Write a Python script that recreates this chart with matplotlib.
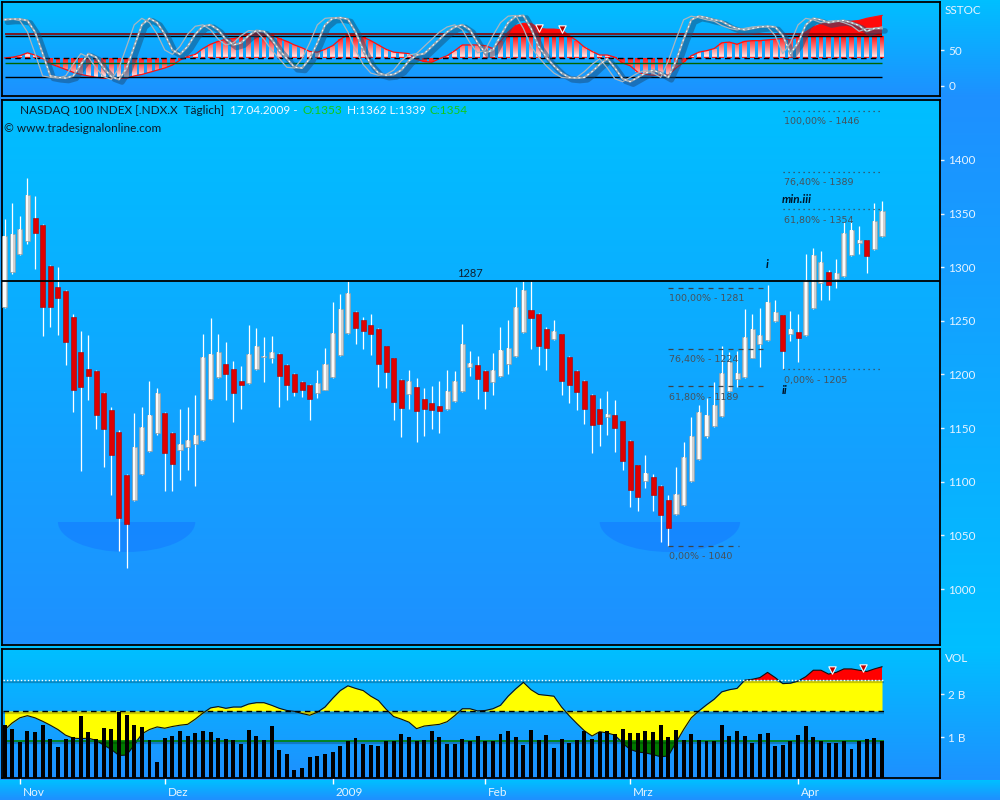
import numpy as np
import matplotlib
matplotlib.use('Agg')
import matplotlib.pyplot as plt
from matplotlib.path import Path
from matplotlib.patches import PathPatch, Ellipse, Rectangle
import matplotlib.transforms as mtransforms

plt.rcParams['font.family'] = ['Lato', 'DejaVu Sans']

# ---------------- data ----------------
opens = [1263, 1296, 1312, 1324, 1346, 1339, 1301, 1282, 1278, 1254, 1221, 1205, 1203, 1183, 1167, 1146, 1106, 1083, 1107, 1129,
         1145, 1164, 1145, 1130, 1132, 1135, 1139, 1177, 1198, 1210, 1205, 1194, 1192, 1205, 1216, 1215, 1219, 1209, 1200, 1193,
         1190, 1183, 1186, 1198, 1218, 1239, 1258, 1251, 1246, 1242, 1227, 1215, 1195, 1182, 1188, 1177, 1173, 1171, 1168, 1175,
         1185, 1207, 1209, 1203, 1193, 1199, 1210, 1217, 1240, 1260, 1256, 1242, 1233, 1238, 1216, 1203, 1194, 1181, 1168, 1160,
         1162, 1157, 1138, 1116, 1101, 1104, 1096, 1083, 1070, 1078, 1101, 1121, 1143, 1152, 1161, 1185, 1196, 1198, 1215, 1228,
         1232, 1250, 1255, 1238, 1240, 1237, 1262, 1285, 1296, 1289, 1292, 1311, 1323, 1325, 1317, 1329]
highs = [1345, 1360, 1348, 1383, 1366, 1340, 1302, 1300, 1279, 1256, 1241, 1237, 1204, 1184, 1170, 1148, 1107, 1164, 1170, 1194,
         1187, 1165, 1146, 1168, 1170, 1181, 1238, 1253, 1238, 1230, 1213, 1208, 1246, 1243, 1235, 1236, 1220, 1210, 1201, 1194,
         1191, 1204, 1225, 1268, 1275, 1287, 1259, 1254, 1256, 1243, 1227, 1215, 1196, 1204, 1197, 1187, 1189, 1194, 1204, 1203,
         1247, 1222, 1217, 1204, 1220, 1244, 1251, 1282, 1287, 1287, 1257, 1244, 1251, 1238, 1217, 1204, 1195, 1182, 1178, 1185,
         1176, 1157, 1139, 1116, 1125, 1107, 1097, 1088, 1114, 1137, 1160, 1172, 1178, 1193, 1227, 1221, 1222, 1261, 1256, 1262,
         1283, 1269, 1255, 1259, 1256, 1312, 1318, 1315, 1297, 1308, 1342, 1345, 1338, 1325, 1360, 1362]
lows = [1262, 1294, 1311, 1322, 1298, 1236, 1244, 1237, 1209, 1165, 1110, 1176, 1149, 1114, 1088, 1035, 1020, 1082, 1106, 1128,
        1144, 1091, 1091, 1102, 1111, 1096, 1138, 1176, 1197, 1176, 1156, 1168, 1191, 1204, 1193, 1211, 1170, 1176, 1180, 1179,
        1158, 1178, 1186, 1197, 1217, 1238, 1228, 1224, 1218, 1188, 1187, 1158, 1142, 1168, 1137, 1143, 1149, 1145, 1167, 1174,
        1184, 1199, 1177, 1168, 1181, 1198, 1200, 1216, 1239, 1224, 1209, 1204, 1232, 1181, 1173, 1167, 1154, 1127, 1133, 1144,
        1128, 1111, 1076, 1073, 1094, 1073, 1044, 1040, 1069, 1077, 1100, 1120, 1141, 1151, 1160, 1184, 1188, 1197, 1215, 1207,
        1231, 1249, 1205, 1231, 1212, 1236, 1261, 1269, 1269, 1281, 1291, 1310, 1312, 1295, 1316, 1328]
closes = [1329, 1331, 1336, 1367, 1332, 1263, 1263, 1271, 1230, 1186, 1188, 1199, 1162, 1149, 1125, 1066, 1061, 1132, 1151, 1162,
          1183, 1127, 1117, 1135, 1139, 1144, 1216, 1219, 1221, 1200, 1183, 1190, 1219, 1227, 1216.5, 1221, 1199, 1190, 1184, 1186,
          1177, 1192, 1210, 1239, 1261, 1276, 1243, 1241, 1238, 1210, 1202, 1174, 1169, 1194, 1166, 1168, 1167, 1166, 1185, 1194,
          1228, 1211, 1196, 1185, 1204, 1223, 1225, 1263, 1279, 1253, 1227, 1225, 1241, 1194, 1190, 1184, 1168, 1153, 1154, 1163,
          1150, 1119, 1092, 1086, 1108, 1088, 1069, 1057, 1089, 1123, 1143, 1165, 1162, 1172, 1201, 1212, 1201, 1235, 1242, 1237,
          1268, 1258, 1222, 1242, 1234, 1288, 1311, 1305, 1283, 1295, 1332, 1335, 1325, 1310, 1343, 1352]

volume_bn = [1.28, 1.19, 0.89, 1.15, 1.12, 1.28, 0.96, 0.78, 0.96, 1.01, 1.49, 1.12, 0.96, 1.22, 1.19, 1.58, 1.52, 1.28, 1.24, 0.94,
             0.43, 0.98, 1.03, 1.15, 1.03, 1.10, 1.15, 1.12, 0.98, 0.96, 0.94, 0.85, 1.17, 1.03, 0.94, 1.26, 0.71, 0.62, 0.25, 0.29,
             0.55, 0.57, 0.62, 0.66, 0.80, 0.92, 0.98, 0.85, 0.82, 0.80, 0.92, 0.92, 1.08, 1.01, 0.92, 0.94, 1.15, 1.01, 0.85, 0.85,
             0.96, 0.92, 1.03, 0.92, 0.92, 1.08, 1.15, 1.01, 0.82, 1.17, 0.94, 1.05, 0.75, 0.96, 0.87, 0.94, 1.15, 0.96, 1.12, 1.15,
             1.08, 1.19, 1.10, 1.10, 1.15, 1.12, 1.28, 1.01, 1.17, 0.94, 1.08, 0.94, 0.92, 0.92, 1.28, 1.03, 1.15, 1.03, 0.87, 1.08,
             1.10, 0.80, 0.82, 0.92, 1.05, 1.26, 1.01, 0.92, 0.87, 0.87, 0.92, 0.73, 0.92, 0.96, 0.98, 0.92]

vol_curve = [1.17, 1.33, 1.45, 1.50, 1.45, 1.37, 1.28, 1.18, 1.05, 0.98, 0.97, 0.98, 0.93, 0.82, 0.72, 0.58, 0.59, 0.82, 1.08, 1.18,
             1.24, 1.21, 1.25, 1.28, 1.30, 1.42, 1.56, 1.68, 1.71, 1.67, 1.70, 1.70, 1.77, 1.80, 1.80, 1.74, 1.67, 1.62, 1.60, 1.55,
             1.51, 1.58, 1.70, 1.90, 2.08, 2.19, 2.13, 2.08, 1.95, 1.85, 1.65, 1.48, 1.42, 1.35, 1.20, 1.26, 1.28, 1.30, 1.36, 1.50,
             1.66, 1.66, 1.61, 1.62, 1.66, 1.74, 1.95, 2.12, 2.27, 2.10, 1.99, 1.97, 1.95, 1.70, 1.50, 1.32, 1.15, 1.03, 1.13, 1.10,
             1.05, 0.86, 0.72, 0.66, 0.64, 0.60, 0.55, 0.57, 0.88, 1.18, 1.45, 1.61, 1.75, 1.88, 2.05, 2.10, 2.13, 2.32, 2.34, 2.38,
             2.50, 2.38, 2.24, 2.25, 2.30, 2.40, 2.55, 2.55, 2.46, 2.50, 2.58, 2.58, 2.55, 2.52, 2.58, 2.63]

sstoc_slow = [92, 93, 93, 91, 75, 45, 14, 12, 11, 14, 30, 45, 40, 25, 13, 9, 25, 55, 85, 94,
              88, 72, 50, 44, 55, 72, 83, 85, 78, 65, 57, 60, 70, 77, 76, 65, 50, 38, 26, 25,
              38, 60, 85, 94, 95, 93, 75, 50, 30, 18, 15, 16, 22, 35, 43, 45, 55, 65, 75, 82,
              85, 78, 60, 46, 50, 70, 88, 97, 98, 80, 55, 40, 28, 18, 12, 11, 12, 20, 30, 38,
              25, 10, 6, 12, 18, 22, 18, 12, 35, 65, 92, 97, 95, 92, 90, 84, 80, 78, 80, 82,
              83, 82, 70, 45, 60, 85, 94, 92, 88, 90, 91, 88, 84, 76, 80, 80]
sstoc_fast = [93, 93, 91, 75, 45, 14, 12, 11, 14, 30, 45, 40, 25, 13, 9, 25, 55, 85, 94, 88,
              72, 50, 44, 55, 72, 83, 85, 78, 65, 57, 60, 70, 77, 76, 65, 50, 38, 26, 25, 38,
              60, 85, 94, 95, 93, 75, 50, 30, 18, 15, 16, 22, 35, 43, 45, 55, 65, 75, 82, 85,
              78, 60, 46, 50, 70, 88, 97, 98, 80, 55, 40, 28, 18, 12, 11, 12, 20, 30, 38, 25,
              10, 6, 12, 18, 22, 18, 12, 35, 65, 92, 97, 95, 92, 90, 84, 80, 78, 80, 82, 83,
              82, 70, 45, 60, 85, 94, 92, 88, 90, 91, 88, 84, 76, 80, 80, 82]
sstoc_hist = [39, 40, 42, 46, 43, 38, 31, 27, 23, 19, 16, 14, 12, 11, 11, 11, 11, 14, 16, 19,
              22, 25, 29, 36, 41, 44, 52, 58, 62, 65, 66, 68, 72, 74, 73, 71, 66, 62, 57, 53,
              48, 47, 51, 56, 65, 71, 70, 68, 63, 57, 51, 47, 46, 45, 37, 34, 33, 38, 42, 49,
              57, 57, 57, 56, 52, 62, 75, 84, 87, 87, 80, 79, 79, 78, 70, 63, 54, 48, 43, 43,
              40, 32, 28, 19, 16, 15, 15, 15, 25, 33, 42, 47, 49, 52, 60, 61, 58, 62, 63, 63,
              64, 65, 66, 64, 69, 75, 82, 86, 88, 89, 90, 90, 91, 94, 96, 98]
sstoc_levels = {'upper_red': 72.2, 'upper': 69, 'mid': 39.3, 'green': 32, 'lower': 12}
sstoc_signal_idx = [70, 73]
sstoc_signal_val = [80, 79]
vol_levels = {'dotted': 2.32, 'dashed': 1.61, 'green': 0.92}
vol_signal_idx = [108.5, 112.5]
vol_signal_val = [2.56, 2.61]

month_ticks = [2, 21, 43, 63, 82, 104]
month_labels = ['Nov', 'Dez', '2009', 'Feb', 'Mrz', 'Apr']
price_ticks = [1000, 1050, 1100, 1150, 1200, 1250, 1300, 1350, 1400]
resistance = 1287
fib_pct = ['100,00%', '76,40%', '61,80%', '0,00%']
fib_left_val = [1281, 1224, 1189, 1040]
fib_right_val = [1446, 1389, 1354, 1205]

header_parts = [('NASDAQ 100 INDEX [.NDX.X  Täglich]', '#0c1a28', 6),
                ('17.04.2009 -', '#f0f8ff', 5),
                ('O:1353', '#14c814', 4),
                ('H:1362 L:1339', '#f0f8ff', 4),
                ('C:1354', '#14c814', 0)]

# ---------------- figure ----------------
L = np.array([0, 191, 255]) / 255.0
D = np.array([30, 144, 255]) / 255.0

def grad(n, c1, c2):
    t = np.linspace(0, 1, n)[:, None]
    return c1 * (1 - t) + c2 * t

fig = plt.figure(figsize=(10, 8), dpi=100)
bg = np.vstack([grad(98, L, D), grad(549, D, L), grad(133, L, D), grad(20, L, D)]).reshape(800, 1, 3)
bgax = fig.add_axes([0, 0, 1, 1])
bgax.imshow(bg, aspect='auto', extent=[0, 1, 0, 1])
bgax.axis('off')

def fx(px):
    return px / 1000.0

def fy(py):
    return 1 - py / 800.0

ax_top = fig.add_axes([fx(2), fy(96), 0.938, 94 / 800])
ax_main = fig.add_axes([fx(2), fy(645), 0.938, 545 / 800])
ax_vol = fig.add_axes([fx(2), fy(778), 0.938, 129 / 800])

TXT = '#e6f3ff'
for ax in (ax_top, ax_main, ax_vol):
    ax.imshow(grad(200, L, D).reshape(200, 1, 3), extent=[0, 1, 0, 1], transform=ax.transAxes,
              aspect='auto', zorder=0)
    for s in ax.spines.values():
        s.set_color('black')
        s.set_linewidth(1.3)
    ax.yaxis.tick_right()
    ax.tick_params(axis='y', direction='out', length=3, width=1, colors=TXT, labelsize=8.5, pad=3)
    ax.tick_params(axis='x', bottom=False, labelbottom=False)

n = len(closes)
idx = np.arange(n)
o = np.array(opens, float); h = np.array(highs, float); l = np.array(lows, float); c = np.array(closes, float)

# ---------------- main panel ----------------
ax = ax_main
for cx, hw in ((16, 9.0), (87.2, 9.2)):
    e = Ellipse((cx, 1062.5), width=2 * hw, height=56, facecolor='#1480ff', edgecolor='none', alpha=0.7, zorder=1)
    ax.add_patch(e)
    e.set_clip_path(Rectangle((-10, 900), 200, 162.5, transform=ax.transData))

ax.vlines(idx, l, h, color='white', lw=0.9, zorder=3)
up = c >= o
bot = np.minimum(o, c)
hgt = np.maximum(np.abs(c - o), 1.3)
ax.bar(idx[up], hgt[up], bottom=bot[up], width=0.66, color='#cfcfcf', edgecolor='#9a9a9a', lw=0.4, zorder=4)
ax.bar(idx[up], hgt[up], bottom=bot[up], width=0.28, color='#fbfbfb', lw=0, zorder=5)
ax.bar(idx[~up], hgt[~up], bottom=bot[~up], width=0.66, color='#e00000', edgecolor='#a80000', lw=0.4, zorder=4)

ax.axhline(resistance, color='black', lw=1.3, zorder=6)
ax.annotate(str(resistance), xy=(61, resistance), xytext=(0, 5.5), textcoords='offset points',
            ha='center', va='center', fontsize=8, color='#102030', zorder=7)

FIBC = '#46525c'
FIBF = ['DejaVu Sans']
for pct, val in zip(fib_pct, fib_left_val):
    x1 = 96.2 if pct == '0,00%' else 99.7
    ax.hlines(val, 87, x1, colors='#3a444c', lw=0.9, linestyles=(0, (4, 4)), zorder=6)
    ax.annotate(f'{pct} - {val}', xy=(87, val), xytext=(0.5, -7.8), textcoords='offset points',
                ha='left', va='center', fontsize=6.8, family=FIBF, color=FIBC, zorder=7)
for pct, val in zip(fib_pct, fib_right_val):
    ax.hlines(val, 102, 115, colors='#3a444c', lw=0.9, linestyles=(0, (1, 3)), zorder=6)
    ax.annotate(f'{pct} - {val}', xy=(102, val), xytext=(0.5, -8), textcoords='offset points',
                ha='left', va='center', fontsize=6.8, family=FIBF, color=FIBC, zorder=7)

ax.text(99.9, 1303, 'i', fontsize=8.5, fontweight='bold', fontstyle='italic', color='#001428', ha='center', va='center', zorder=7)
ax.text(102.2, 1185, 'ii', fontsize=8.5, fontweight='bold', fontstyle='italic', color='#001428', ha='center', va='center', zorder=7)
ax.text(101.9, 1363, 'min.iii', fontsize=8.5, fontweight='bold', fontstyle='italic', color='#001428', ha='left', va='center', zorder=7)

ax.set_yticks(price_ticks)
ax.set_yticklabels([str(v) for v in price_ticks])
ax.set_xlim(-0.33, 122.6)
ax.set_ylim(947.8, 1455.9)

# header text, chained left to right
renderer = fig.canvas.get_renderer()
xpos = 20.0
for txt, col, gap in header_parts:
    t = fig.text(fx(xpos), fy(110), txt, fontsize=8.5, color=col, va='center', ha='left')
    bb = t.get_window_extent(renderer)
    xpos = bb.x1 + gap
fig.text(fx(4), fy(128), '© www.tradesignalonline.com', fontsize=8.5, color='#0c1a28', va='center')

# ---------------- SSTOC panel ----------------
ax = ax_top
hist = np.array(sstoc_hist, float)
base = sstoc_levels['mid']
up_lv = sstoc_levels['upper']
lo_lv = sstoc_levels['lower']

vals = np.linspace(lo_lv, up_lv, 300)
red = np.array([1.0, 0.05, 0.05]); white = np.array([1.0, 0.97, 0.97])
cols = []
for v in vals:
    if v >= base:
        t = (v - base) / (up_lv - base)
    else:
        t = (v - lo_lv) / (base - lo_lv)
    t = min(max(t, 0), 1) ** 0.8
    cols.append(white * (1 - t) + red * t)
gimg = np.array(cols).reshape(300, 1, 3)
im = ax.imshow(gimg, extent=[-1, n + 1, lo_lv, up_lv], origin='lower', aspect='auto', zorder=2)
verts, codes = [], []
w = 0.62
for i, hv in enumerate(hist):
    y1 = min(max(hv, lo_lv), up_lv)
    verts += [(i - w / 2, base), (i + w / 2, base), (i + w / 2, y1), (i - w / 2, y1), (i - w / 2, base)]
    codes += [Path.MOVETO, Path.LINETO, Path.LINETO, Path.LINETO, Path.CLOSEPOLY]
clip = PathPatch(Path(verts, codes), transform=ax.transData, facecolor='none', edgecolor='none')
im.set_clip_path(clip)
ax.fill_between(idx, up_lv, hist, where=hist > up_lv, interpolate=True, color='#ff0a0a', lw=0, zorder=2)
ax.fill_between(idx, lo_lv, hist, where=hist < lo_lv, interpolate=True, color='#ff0a0a', lw=0, zorder=2)
ax.plot(idx, hist, color='#ff1010', lw=0.9, zorder=3)

ax.hlines(sstoc_levels['upper_red'], 0, n - 1, colors='#8b0000', lw=1.2, zorder=4)
ax.hlines(up_lv, 0, n - 1, colors='black', lw=1.0, zorder=4)
ax.hlines(base, 0, n - 1, colors='black', lw=1.0, linestyles=(0, (4, 3)), zorder=4)
ax.hlines(sstoc_levels['green'], 0, n - 1, colors='#006400', lw=1.0, zorder=4)
ax.hlines(lo_lv, 0, n - 1, colors='black', lw=1.0, zorder=4)

shadow = ax.transData + mtransforms.ScaledTranslation(2.2 / 72, -1.8 / 72, fig.dpi_scale_trans)
ax.plot(idx, sstoc_slow, color='#1a4d78', lw=4.0, alpha=0.5, transform=shadow, zorder=5, solid_capstyle='round')
ax.plot(idx, sstoc_fast, color='#a9b6c0', lw=0.9, zorder=6)
ax.plot(idx, sstoc_slow, color='#98a4ad', lw=1.5, zorder=6)
ax.plot(idx, sstoc_slow, color='white', lw=0.7, linestyle=(0, (2, 3)), zorder=7)
ax.scatter(sstoc_signal_idx, sstoc_signal_val, marker='v', s=28, color='#b00000', edgecolors='white', linewidths=0.8, zorder=8)

ax.set_yticks([0, 50])
ax.set_yticklabels(['0', '50'])
ax.set_xlim(-0.33, 122.6)
ax.set_ylim(-13.9, 116.7)
fig.text(fx(945), fy(11), 'SSTOC', fontsize=8.5, color=TXT, va='center', ha='left')

# ---------------- volume panel ----------------
ax = ax_vol
vc = np.array(vol_curve, float)
dl = vol_levels['dashed']; gl = vol_levels['green']; tl = vol_levels['dotted']
ax.fill_between(idx, dl, np.clip(vc, gl, tl), color='#ffff00', lw=0, zorder=2)
ax.fill_between(idx, gl, vc, where=vc < gl, interpolate=True, color='#007a00', lw=0, zorder=2)
ax.fill_between(idx, tl, vc, where=vc > tl, interpolate=True, color='#ff0000', lw=0, zorder=2)
ax.plot(idx, vc, color='#101010', lw=0.8, zorder=3)
for lv in (tl, dl, gl):
    ax.hlines(lv - 0.045, -0.2, n - 0.8, colors='black', lw=1.6, alpha=0.22, zorder=3)
ax.hlines(tl, -0.2, n - 0.8, colors='white', lw=1.0, linestyles=(0, (1, 1.5)), zorder=4)
ax.hlines(dl, -0.2, n - 0.8, colors='black', lw=1.0, linestyles=(0, (4, 3)), zorder=4)
ax.hlines(gl, -0.2, n - 0.8, colors='#008000', lw=1.2, zorder=4)
ax.bar(idx, volume_bn, width=0.52, color='black', zorder=5)
ax.scatter(vol_signal_idx, vol_signal_val, marker='v', s=28, color='#c00000', edgecolors='white', linewidths=0.8, zorder=6)

ax.set_yticks([1, 2])
ax.set_yticklabels(['1 B', '2 B'])
ax.set_xticks(month_ticks)
ax.tick_params(axis='x', bottom=True, labelbottom=False, direction='out', length=4, width=1, colors='white')
for t, lab in zip(month_ticks, month_labels):
    ax.annotate(lab, xy=(t, 0), xycoords=('data', 'axes fraction'), xytext=(2.2, -6.5), textcoords='offset points',
                ha='left', va='top', fontsize=8.5, color=TXT)
ax.set_xlim(-0.33, 122.6)
ax.set_ylim(0.06, 3.04)
fig.text(fx(945), fy(658), 'VOL', fontsize=8.5, color=TXT, va='center', ha='left')

fig.savefig('out.png', dpi=100)
